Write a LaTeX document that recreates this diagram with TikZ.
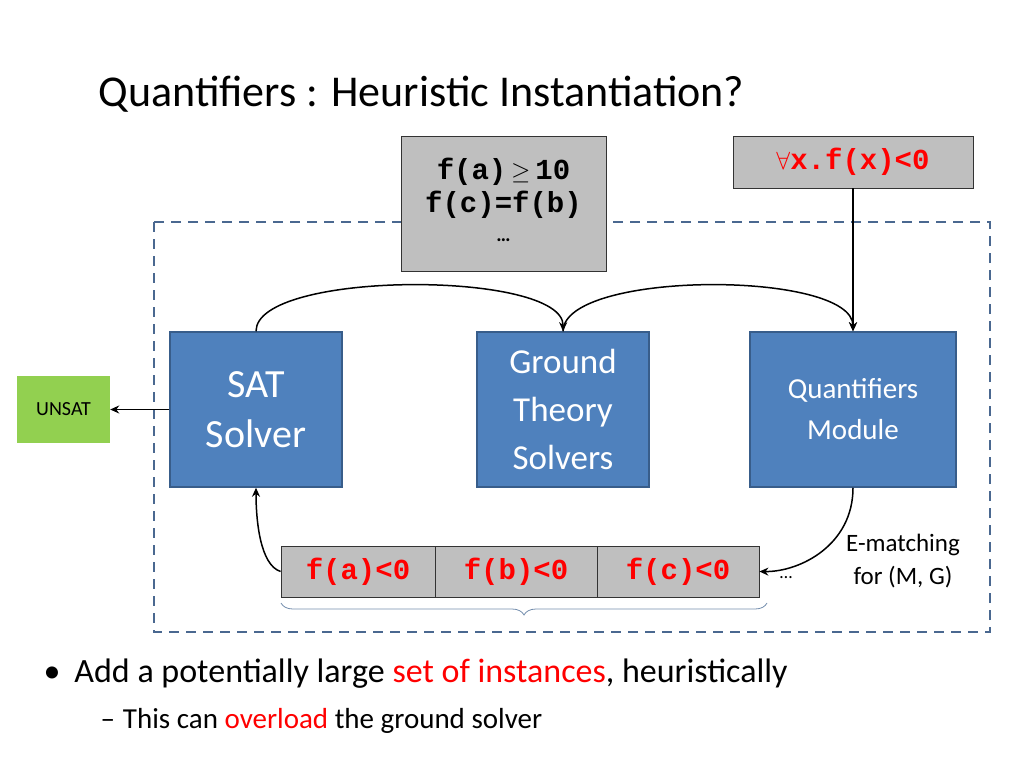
\documentclass[tikz,border=0pt]{standalone}
\usepackage{fontspec}
\setmainfont{Carlito}
\newfontfamily\monof{Liberation Mono}
\usetikzlibrary{decorations.pathreplacing,arrows.meta}
\definecolor{blu}{HTML}{4F81BD}
\definecolor{blub}{HTML}{385D8A}
\definecolor{dashcol}{HTML}{4A6890}
\definecolor{grn}{HTML}{92D050}
\tikzset{
 gbox/.style={draw=black!80,fill=black!25,line width=0.8pt,inner sep=0pt},
 bbox/.style={draw=blub,fill=blu,line width=1.5pt,text=white,align=center,inner sep=0pt},
 cell/.style={draw=black!80,fill=black!25,line width=0.8pt,minimum height=51pt,inner sep=0pt,font=\fontsize{29}{30}\selectfont\monof\bfseries,text=red},
 arr/.style={-{Stealth[length=9pt,width=8pt]},line width=1.5pt}
}
\begin{document}
\begin{tikzpicture}[x=1pt,y=-1pt]
\useasboundingbox (0,0) rectangle (1024,768);
\node[anchor=west,font=\fontsize{44}{48}\selectfont] (title) at (95,94) {Quantifiers : Heuristic Instantiation?};
\draw[dashcol,line width=2pt,dash pattern=on 10pt off 7pt] (154,222) rectangle (990,632);
\node[gbox,minimum width=205pt,minimum height=135pt] (g1) at (503.5,203.5) {};
\node[font=\fontsize{29}{33}\selectfont\monof\bfseries,align=center] (g1t) at (503.5,200) {f(a)\,$\geq$\,10\\f(c)=f(b)\\[-4pt]{\rmfamily\fontsize{20}{20}\selectfont …}};
\node[gbox,minimum width=240pt,minimum height=52pt,text=red,font=\fontsize{29}{30}\selectfont\monof\bfseries] (q0) at (853,162) {$\forall$x.f(x)<0};
\node[bbox,minimum width=172pt,minimum height=155pt,font=\fontsize{40}{50}\selectfont] (sat) at (256,409.5) {SAT\\Solver};
\node[bbox,minimum width=172pt,minimum height=155pt,font=\fontsize{35}{48}\selectfont] (gt) at (563,409.5) {Ground\\Theory\\Solvers};
\node[bbox,minimum width=206pt,minimum height=155pt,font=\fontsize{29}{41}\selectfont] (qm) at (853,409.5) {Quantifiers\\Module};
\node[fill=grn,minimum width=93pt,minimum height=67pt,inner sep=0pt,font=\fontsize{20}{22}\selectfont] (un) at (63.5,409.5) {UNSAT};
\node[cell,minimum width=154pt] (c1) at (358,571.5) {f(a)<0};
\node[cell,minimum width=162pt] (c2) at (516,571.5) {f(b)<0};
\node[cell,minimum width=162pt] (c3) at (678,571.5) {f(c)<0};
\node[font=\fontsize{18}{18}\selectfont] (dots) at (786,578) {…};
\node[align=center,font=\fontsize{25}{33}\selectfont] (em) at (903,561) {E-matching\\for (M, G)};
\draw[blub!70,line width=0.8pt,decorate,decoration={brace,mirror,amplitude=12pt}] (281,603) -- (767,603) coordinate[midway] (bm);
\draw[arr] (sat.west) -- (un.east);
\draw[arr] (sat.north) .. controls (256,270) and (564,270) .. (gt.north);
\draw[arr] (gt.north) .. controls (564,270) and (853,270) .. (qm.north);
\draw[arr] (q0.south) -- (qm.north);
\draw[arr] (qm.south) .. controls (853,545) and (800,572) .. (c3.east);
\draw[arr] (c1.west) .. controls (260,565) and (256,520) .. (sat.south);
\node[anchor=west,font=\fontsize{34}{36}\selectfont] (b1) at (40,674) {•\hspace{14pt}Add a potentially large \textcolor{red}{set of instances}, heuristically};
\node[anchor=west,font=\fontsize{29}{32}\selectfont] (b2) at (97,721) {–\hspace{8pt}This can \textcolor{red}{overload} the ground solver};
\end{tikzpicture}
\end{document}
